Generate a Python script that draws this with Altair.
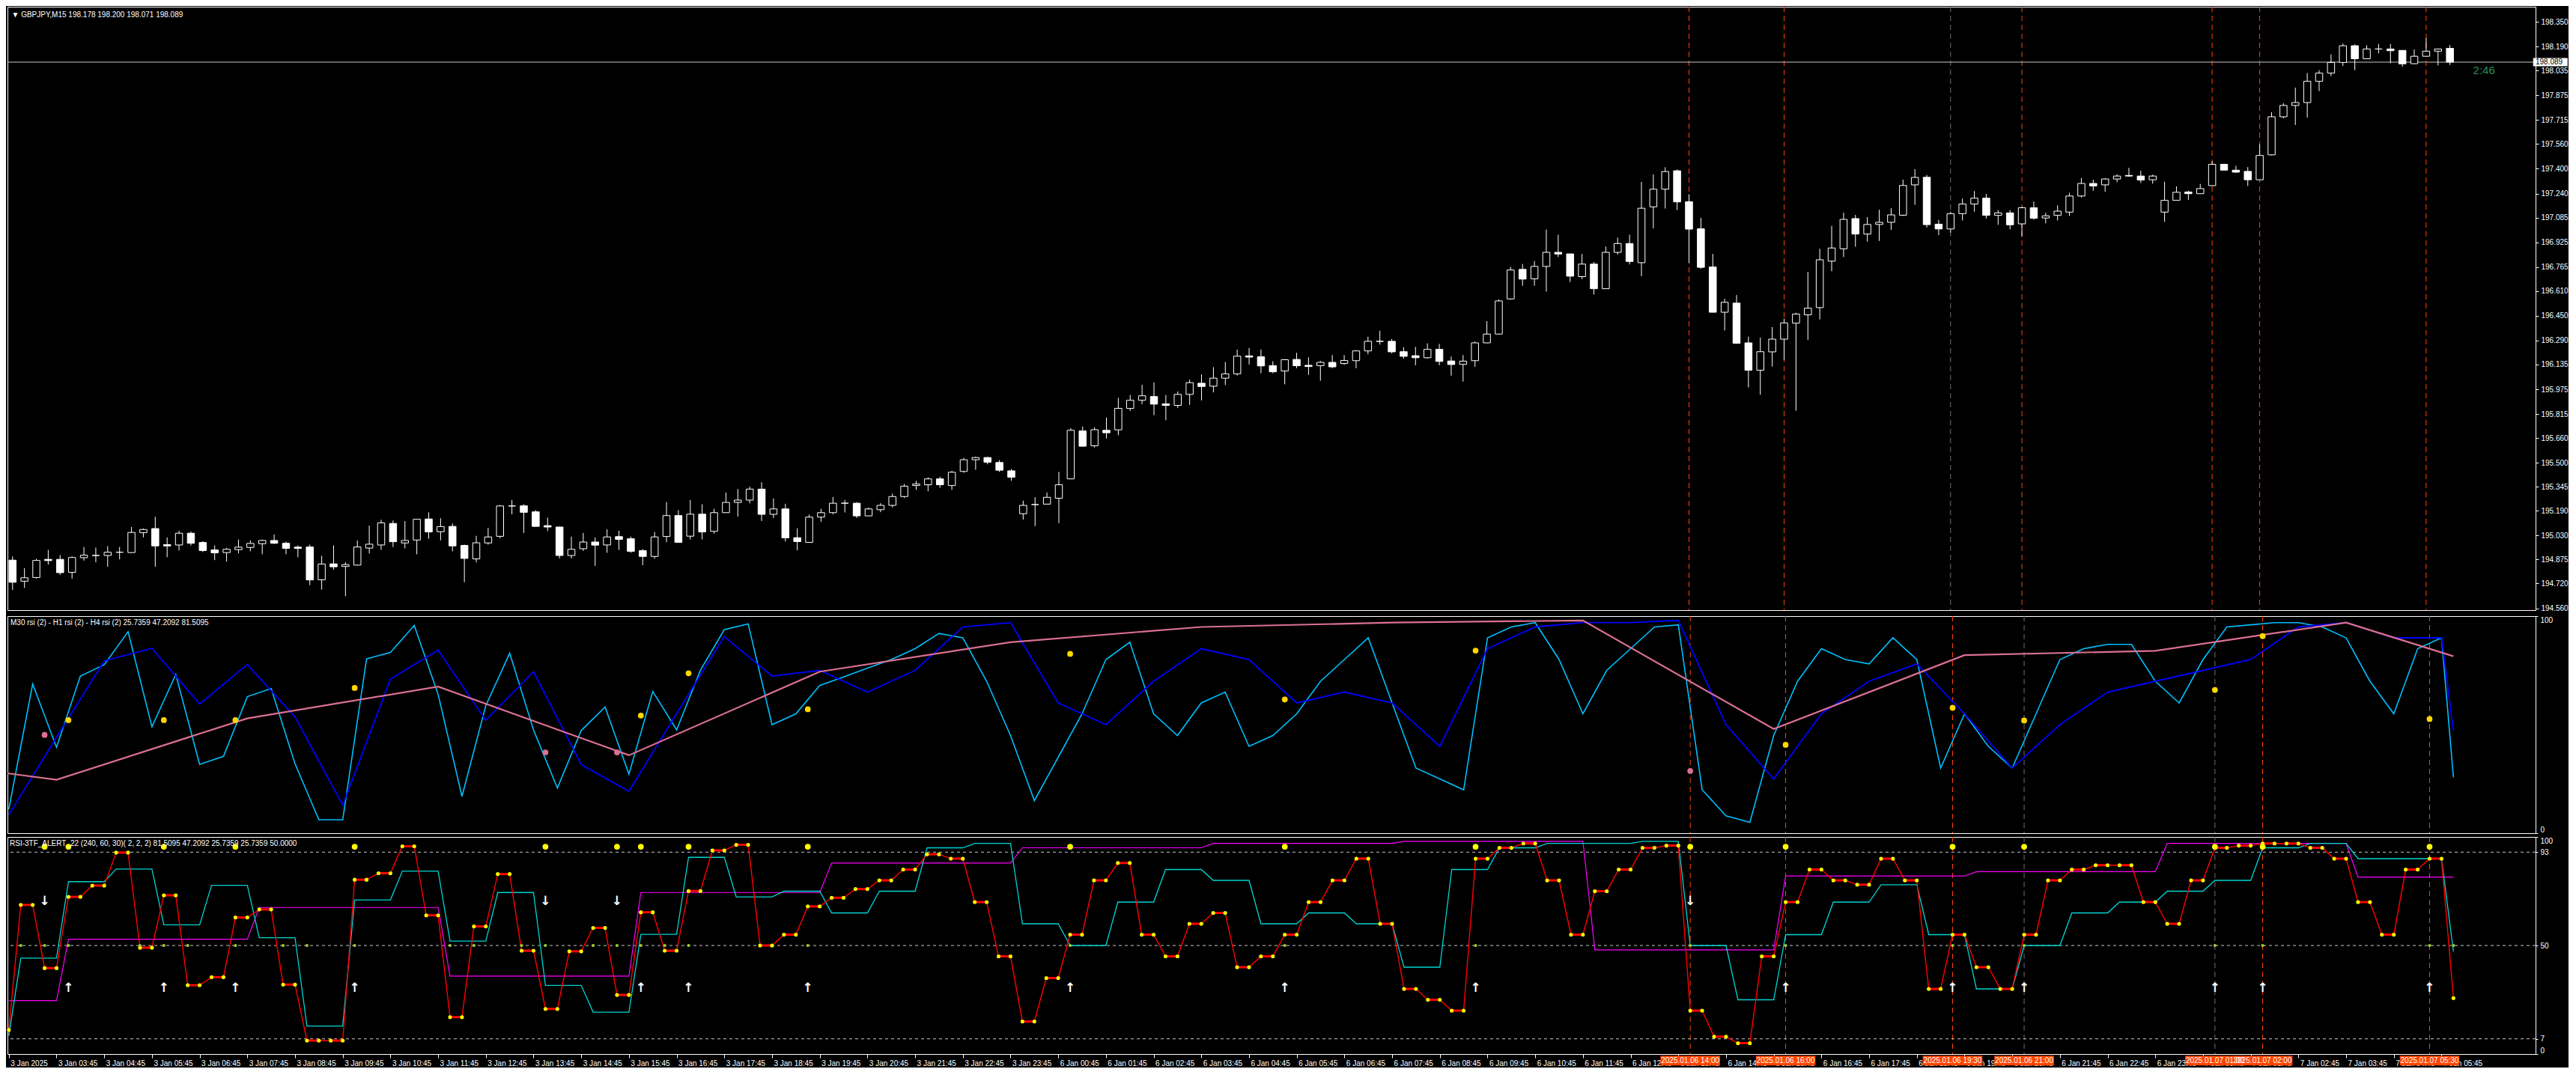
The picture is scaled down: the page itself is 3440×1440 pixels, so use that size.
import json
import altair as alt
import pandas as pd

# ---------------- data (M15 bars, index 0 = 3 Jan 02:45) ----------------
opens = [
    194.871, 194.735, 194.759, 194.876, 194.876, 194.792, 194.887, 194.901, 194.901, 194.922,
    194.920, 195.048, 195.075, 194.971, 194.969, 195.045, 194.985, 194.937, 194.920, 194.939,
    194.953, 194.977, 194.998, 194.980, 194.955, 194.956, 194.744, 194.847, 194.830, 194.839,
    194.949, 194.969, 195.108, 194.982, 195.001, 195.137, 195.055, 195.089, 194.966, 194.879,
    194.982, 195.025, 195.221, 195.222, 195.183, 195.094, 195.085, 194.901, 194.945, 194.988,
    194.969, 195.023, 195.009, 194.933, 194.895, 195.024, 195.159, 195.026, 195.168, 195.057,
    195.178, 195.244, 195.259, 195.330, 195.167, 195.202, 195.016, 194.986, 195.149, 195.178,
    195.239, 195.239, 195.157, 195.197, 195.225, 195.282, 195.353, 195.358, 195.396, 195.353,
    195.444, 195.520, 195.534, 195.502, 195.448, 195.171, 195.230, 195.233, 195.271, 195.396,
    195.706, 195.610, 195.710, 195.713, 195.851, 195.904, 195.928, 195.881, 195.871, 195.942,
    196.014, 195.995, 196.047, 196.075, 196.191, 196.185, 196.128, 196.093, 196.168, 196.130,
    196.128, 196.149, 196.142, 196.160, 196.223, 196.285, 196.285, 196.218, 196.192, 196.179,
    196.233, 196.158, 196.136, 196.160, 196.275, 196.332, 196.559, 196.750, 196.689, 196.769,
    196.860, 196.850, 196.703, 196.784, 196.625, 196.860, 196.917, 196.793, 197.154, 197.268,
    197.387, 197.187, 197.012, 196.765, 196.473, 196.532, 196.275, 196.098, 196.217, 196.299,
    196.402, 196.456, 196.503, 196.803, 196.883, 197.078, 196.978, 197.040, 197.054, 197.100,
    197.296, 197.345, 197.042, 197.011, 197.110, 197.172, 197.210, 197.099, 197.115, 197.044,
    197.148, 197.082, 197.099, 197.120, 197.224, 197.305, 197.296, 197.334, 197.357, 197.353,
    197.329, 197.120, 197.196, 197.250, 197.239, 197.291, 197.429, 197.391, 197.383, 197.329,
    197.490, 197.736, 197.809, 197.828, 197.965, 198.018, 198.087, 198.195, 198.111, 198.174,
    198.174, 198.165, 198.079, 198.127, 198.160, 198.178]
highs = [
    194.895, 194.819, 194.879, 194.937, 194.904, 194.895, 194.956, 194.952, 194.961, 194.956,
    195.085, 195.075, 195.151, 195.018, 195.061, 195.056, 194.993, 194.966, 194.950, 195.004,
    194.999, 195.004, 195.037, 194.990, 194.966, 194.971, 194.899, 194.966, 194.858, 194.998,
    195.094, 195.132, 195.127, 195.123, 195.137, 195.180, 195.142, 195.108, 194.971, 195.028,
    195.080, 195.227, 195.260, 195.232, 195.194, 195.146, 195.087, 195.023, 195.047, 195.018,
    195.070, 195.061, 195.023, 194.942, 195.053, 195.246, 195.194, 195.260, 195.232, 195.203,
    195.308, 195.331, 195.346, 195.374, 195.270, 195.235, 195.077, 195.165, 195.203, 195.279,
    195.260, 195.246, 195.211, 195.239, 195.301, 195.363, 195.383, 195.406, 195.410, 195.448,
    195.531, 195.540, 195.539, 195.517, 195.460, 195.255, 195.277, 195.308, 195.441, 195.724,
    195.735, 195.729, 195.792, 195.920, 195.938, 196.004, 196.020, 195.938, 195.961, 196.037,
    196.071, 196.118, 196.151, 196.232, 196.242, 196.232, 196.156, 196.170, 196.211, 196.182,
    196.158, 196.196, 196.196, 196.228, 196.315, 196.353, 196.299, 196.247, 196.249, 196.272,
    196.268, 196.187, 196.196, 196.283, 196.415, 196.556, 196.766, 196.785, 196.804, 197.007,
    196.974, 196.852, 196.850, 196.798, 196.898, 196.955, 196.974, 197.315, 197.363, 197.410,
    197.396, 197.235, 197.083, 196.850, 196.560, 196.584, 196.315, 196.309, 196.377, 196.431,
    196.470, 196.733, 196.883, 197.031, 197.116, 197.102, 197.088, 197.135, 197.145, 197.330,
    197.398, 197.360, 197.069, 197.122, 197.207, 197.256, 197.237, 197.133, 197.133, 197.155,
    197.188, 197.115, 197.164, 197.245, 197.340, 197.329, 197.340, 197.364, 197.406, 197.387,
    197.362, 197.316, 197.286, 197.258, 197.302, 197.449, 197.432, 197.419, 197.411, 197.558,
    197.766, 197.823, 197.924, 198.019, 198.037, 198.139, 198.209, 198.203, 198.198, 198.207,
    198.207, 198.167, 198.171, 198.245, 198.176, 198.200]
lows = [
    194.678, 194.692, 194.752, 194.842, 194.776, 194.752, 194.868, 194.857, 194.828, 194.876,
    194.918, 195.018, 194.828, 194.890, 194.933, 194.966, 194.923, 194.871, 194.861, 194.914,
    194.928, 194.909, 194.975, 194.909, 194.890, 194.709, 194.681, 194.809, 194.638, 194.837,
    194.914, 194.937, 194.956, 194.947, 194.909, 195.009, 194.999, 194.928, 194.728, 194.857,
    194.971, 195.013, 195.167, 195.047, 195.087, 195.058, 194.882, 194.882, 194.930, 194.834,
    194.918, 194.937, 194.918, 194.838, 194.880, 194.986, 194.986, 195.005, 195.005, 195.043,
    195.176, 195.152, 195.238, 195.124, 195.143, 194.991, 194.934, 194.984, 195.119, 195.167,
    195.179, 195.143, 195.155, 195.181, 195.211, 195.273, 195.325, 195.316, 195.339, 195.325,
    195.436, 195.455, 195.490, 195.441, 195.384, 195.133, 195.091, 195.231, 195.110, 195.394,
    195.605, 195.599, 195.657, 195.678, 195.836, 195.879, 195.808, 195.775, 195.855, 195.874,
    195.903, 195.955, 196.002, 196.064, 196.135, 196.079, 196.079, 196.007, 196.111, 196.068,
    196.030, 196.111, 196.133, 196.111, 196.201, 196.264, 196.207, 196.173, 196.130, 196.173,
    196.130, 196.063, 196.025, 196.120, 196.273, 196.330, 196.554, 196.644, 196.644, 196.606,
    196.830, 196.668, 196.687, 196.587, 196.623, 196.845, 196.782, 196.706, 197.015, 197.143,
    197.133, 196.791, 196.754, 196.471, 196.355, 196.269, 195.987, 195.940, 196.122, 196.165,
    195.837, 196.294, 196.426, 196.738, 196.830, 196.896, 196.929, 196.934, 197.005, 197.095,
    197.167, 197.020, 196.971, 196.987, 197.066, 197.123, 197.079, 197.038, 197.009, 196.962,
    197.071, 197.047, 197.066, 197.095, 197.215, 197.258, 197.251, 197.313, 197.348, 197.308,
    197.304, 197.057, 197.194, 197.199, 197.237, 197.289, 197.388, 197.374, 197.289, 197.327,
    197.486, 197.726, 197.683, 197.731, 197.902, 197.999, 198.065, 198.037, 198.109, 198.146,
    198.082, 198.060, 198.077, 198.125, 198.068, 198.071]
closes = [
    194.728, 194.757, 194.869, 194.868, 194.790, 194.888, 194.903, 194.901, 194.922, 194.922,
    195.050, 195.069, 194.963, 194.963, 195.045, 194.980, 194.933, 194.918, 194.941, 194.955,
    194.979, 194.998, 194.980, 194.947, 194.947, 194.743, 194.846, 194.828, 194.842, 194.956,
    194.974, 195.112, 194.990, 194.998, 195.135, 195.053, 195.088, 194.963, 194.882, 194.983,
    195.021, 195.221, 195.221, 195.180, 195.089, 195.085, 194.901, 194.941, 194.988, 194.968,
    195.021, 195.005, 194.928, 194.895, 195.021, 195.159, 194.986, 195.168, 195.053, 195.178,
    195.244, 195.259, 195.330, 195.167, 195.202, 195.015, 194.991, 195.149, 195.178, 195.239,
    195.239, 195.157, 195.202, 195.225, 195.282, 195.349, 195.363, 195.396, 195.358, 195.439,
    195.520, 195.534, 195.504, 195.452, 195.407, 195.225, 195.230, 195.277, 195.358, 195.710,
    195.607, 195.714, 195.694, 195.852, 195.904, 195.933, 195.879, 195.871, 195.942, 196.018,
    195.993, 196.047, 196.075, 196.189, 196.183, 196.126, 196.088, 196.166, 196.127, 196.122,
    196.149, 196.120, 196.161, 196.223, 196.285, 196.285, 196.217, 196.188, 196.179, 196.233,
    196.155, 196.135, 196.157, 196.275, 196.332, 196.546, 196.746, 196.687, 196.769, 196.860,
    196.849, 196.706, 196.784, 196.625, 196.860, 196.917, 196.801, 197.145, 197.268, 197.382,
    197.186, 197.010, 196.763, 196.473, 196.537, 196.272, 196.098, 196.218, 196.299, 196.404,
    196.461, 196.499, 196.812, 196.888, 197.073, 196.978, 197.040, 197.054, 197.102, 197.292,
    197.344, 197.039, 197.011, 197.110, 197.172, 197.210, 197.099, 197.115, 197.038, 197.148,
    197.080, 197.096, 197.126, 197.224, 197.305, 197.289, 197.334, 197.353, 197.353, 197.327,
    197.353, 197.196, 197.248, 197.239, 197.272, 197.429, 197.391, 197.378, 197.329, 197.486,
    197.736, 197.809, 197.828, 197.965, 198.018, 198.087, 198.195, 198.111, 198.174, 198.174,
    198.163, 198.078, 198.127, 198.160, 198.174, 198.089]

price_ticks = [194.560, 194.720, 194.875, 195.030, 195.190, 195.345, 195.500, 195.660,
               195.815, 195.975, 196.135, 196.290, 196.450, 196.610, 196.765, 196.925,
               197.085, 197.240, 197.400, 197.560, 197.715, 197.875, 198.035, 198.190, 198.350]
last_price = 198.089
timer_text = "2:46"

# RSI(2) per M30 bar (bar b covers M15 bars 2b-1, 2b)
m30_rsi = [11.1, 68.7, 39.6, 72.4, 77.6, 92.8, 49.0, 73.1, 31.7, 35.4,
           62.9, 66.6, 32.0, 6.2, 6.2, 80.3, 83.3, 95.7, 63.9, 17.0,
           58.8, 82.9, 47.6, 20.8, 47.3, 58.1, 27.2, 65.3, 47.6, 75.1,
           93.8, 96.4, 50, 55, 68, 72, 76, 80, 85, 92,
           90, 70, 45, 15, 35, 55, 80, 88, 55, 45,
           60, 65, 40, 45, 55, 70, 80, 90, 60, 30,
           25, 20, 90, 95, 97, 80, 55, 75, 85, 95,
           96, 20, 8, 5, 45, 70, 85, 80, 78, 90,
           80, 30, 55, 40, 30, 55, 80, 85, 87, 87,
           70, 60, 80, 95, 96, 97, 97, 95, 90, 70,
           55, 85, 90, 25.7359]
# RSI(2) per H1 bar (bar c covers M15 bars 4c-3 .. 4c)
h1_rsi = [8.5, 44.2, 79.4, 85.2, 59.5, 77.7, 53.6, 12.9, 71.0, 84.3,
          52.0, 74.4, 31.6, 19.3, 55.1, 90.6, 72.4, 75, 65, 75,
          95, 97, 60, 50, 70, 85, 80, 60, 65, 60,
          40, 85, 95, 97, 97, 98, 50, 25, 55, 70,
          78, 55, 30, 50, 65, 70, 75, 80, 95, 97,
          90, 90, 47.2092]
# RSI(2) per H4 bar (first entry = bar ending before the chart)
h4_rsi = [36.2, 24.6, 52.9, 67.5, 35.9, 74.4, 88, 95, 97, 98, 48, 82, 84, 97, 81.5095]

sig_k = [3, 5, 13, 19, 29, 45, 51, 53, 57, 67, 89, 107, 123, 141, 149, 163, 169, 185, 189, 203]
sig_dir = ["dn", "up", "up", "up", "up", "dn", "dn", "up", "up", "up",
           "up", "up", "up", "dn", "up", "up", "up", "up", "up", "up"]
sig_mid_val = [45.3, 52.1, 52.1, 52.1, 66.9, 37.2, 37.2, 54.2, 73.7, 57.1,
               82.6, 61.6, 84.1, 28.7, 40.7, 57.8, 51.9, 66.0, 90.8, 52.6]
mid_k_dots = [1, 3, 5, 11, 13, 15, 19, 23, 25, 29, 37, 39, 43, 45, 49, 51, 53, 55, 57,
              67, 89, 107, 123, 141, 149, 163, 169, 185, 189, 203, 205]

vline_k = [141, 149, 163, 169, 185, 189, 203]
vline_label = ["2025.01.06 14:00", "2025.01.06 16:00", "2025.01.06 19:30", "2025.01.06 21:00",
               "2025.01.07 01:00", "2025.01.07 02:00", "2025.01.07 05:30"]
vline_col_top = ["#FF4500", "#FF4500", "#707070", "#FF4500", "#FF4500", "#FF4500", "#FF4500"]
vline_col_low = ["#FF4500", "#FF4500", "#FF4500", "#707070", "#707070", "#FF4500", "#FF4500"]

levels = [93, 50, 7]

# ---------------- derived tables ----------------
N = len(closes)
K = list(range(N))


def bar_label(k):
    if k == 0:
        return "3 Jan 2025"
    if k <= 84:
        m = 2 * 60 + 45 + 15 * k
        return f"3 Jan {m // 60:02d}:{m % 60:02d}"
    m = 15 * (k - 85)
    day = 6 + m // 1440
    m = m % 1440
    return f"{day} Jan {m // 60:02d}:{m % 60:02d}"


tick_k = list(range(0, N, 4))
tick_labels = [bar_label(k) for k in tick_k]

cdf = pd.DataFrame({"k": K, "open": opens, "high": highs, "low": lows, "close": closes})
cdf["fill"] = ["#000000" if c >= o else "#FFFFFF" for o, c in zip(opens, closes)]

m30_step = [m30_rsi[(k + 1) // 2] for k in K]
h1_step = [h1_rsi[(k + 3) // 4] for k in K]
h4_step = [h4_rsi[(k - 5) // 16 + 2] for k in K]
step_df = pd.DataFrame({"k": K, "m30": m30_step, "h1": h1_step, "h4": h4_step})

m30_v = pd.DataFrame({"k": [min(2 * b, N - 1) for b in range(len(m30_rsi))], "v": m30_rsi})
h1_v = pd.DataFrame({"k": [min(4 * c, N - 1) for c in range(len(h1_rsi))], "v": h1_rsi})
h4_v = pd.DataFrame({"k": [min(16 * d + 20, N - 1) for d in range(-2, len(h4_rsi) - 2)], "v": h4_rsi})

flat_df = pd.DataFrame({"k": [2 * b - 1 for b in range(1, len(m30_rsi))],
                        "k2": [min(2 * b, N - 1) for b in range(1, len(m30_rsi))],
                        "v": m30_rsi[1:]})

sig_df = pd.DataFrame({"k": sig_k, "dir": sig_dir, "mv": sig_mid_val})
sig_df["mcol"] = ["#DB7093" if d == "dn" else "#FFD700" for d in sig_dir]
sig_df["top"] = 95.5
sig_df["arrow_v"] = [70.5 if d == "dn" else 30.5 for d in sig_dir]
sig_df["arrow"] = ["\u2193" if d == "dn" else "\u2191" for d in sig_dir]

green_df = pd.DataFrame({"k": mid_k_dots, "v": [50] * len(mid_k_dots)})

vl_top = pd.DataFrame({"k": vline_k, "col": vline_col_top})
vl_low = pd.DataFrame({"k": vline_k, "col": vline_col_low, "lab": vline_label})
vl_low["k1"] = vl_low["k"] - 2.5
vl_low["k2"] = vl_low["k"] + 2.5
vl_low["y1"] = -0.8
vl_low["y2"] = -5.3
vl_low["ty"] = -3.0

lev_df = pd.DataFrame({"v": levels})

# ---------------- layout ----------------
W = 3376
H_TOP, H_MID, H_BOT = 806, 290, 290
X_DOM = [-0.1125, 211.8875]
P_DOM = [194.548, 198.447]
FONT = "Liberation Sans"

xs = alt.Scale(domain=X_DOM, nice=False, zero=False)


def xq(field="k"):
    return alt.X(f"{field}:Q", scale=xs, axis=None, title=None)


x_bot_axis = alt.Axis(values=tick_k, labelExpr=json.dumps(tick_labels) + "[round(datum.value / 4)]",
                      labelAlign="left", labelOffset=2, tickSize=5, labelPadding=2, domain=False,
                      grid=False, labelOverlap=False, labelBound=False, labelFlush=False,
                      labelColor="white", labelFontSize=10, title=None)


def xb(field="k"):
    return alt.X(f"{field}:Q", scale=xs, axis=x_bot_axis, title=None)


price_axis = alt.Axis(orient="right", values=price_ticks, format=".3f", tickSize=4, labelPadding=3,
                      domain=False, grid=False, labelFlush=False, labelBound=False,
                      labelOverlap=False, title=None)


def yp(field):
    return alt.Y(f"{field}:Q", scale=alt.Scale(domain=P_DOM, nice=False, zero=False),
                 axis=price_axis, title=None)


rsi_scale = alt.Scale(domain=[0, 100], nice=False, zero=False)
mid_axis = alt.Axis(orient="right", values=[0, 100], tickSize=3, labelPadding=3, domain=False,
                    grid=False, labelFlush=True, title=None)
bot_axis = alt.Axis(orient="right", values=[0, 7, 50, 93, 100], tickSize=3, labelPadding=3,
                    domain=False, grid=False, labelFlush=True, labelOverlap=False, title=None)


def ym(field):
    return alt.Y(f"{field}:Q", scale=rsi_scale, axis=mid_axis, title=None)


def yb(field):
    return alt.Y(f"{field}:Q", scale=rsi_scale, axis=bot_axis, title=None)


# ---- top: candles ----
base_c = alt.Chart(cdf)
wicks = base_c.mark_rule(color="white", strokeWidth=1).encode(x=xq(), y=yp("low"), y2="high:Q")
bodies = base_c.mark_bar(size=9.5, stroke="white", strokeWidth=1).encode(
    x=xq(), y=yp("open"), y2="close:Q", fill=alt.Fill("fill:N", scale=None))
vtop = alt.Chart(vl_top).mark_rule(strokeDash=[7, 5], strokeWidth=1).encode(
    x=xq(), color=alt.Color("col:N", scale=None))
lp_df = pd.DataFrame({"p": [last_price], "k": [206.95], "k1": [212.0], "k2": [214.9],
                      "p1": [last_price - 0.027], "p2": [last_price + 0.027], "kt": [212.2],
                      "txt": [f"{last_price:.3f}"], "timer": [timer_text]})
pline = alt.Chart(lp_df).mark_rule(color="#C8C8C8", strokeWidth=1).encode(y=yp("p"))
timer = alt.Chart(lp_df).mark_text(align="left", baseline="middle", dy=11, fontSize=15,
                                   color="#2E8B57", font=FONT).encode(x=xq(), y=yp("p"), text="timer:N")
pbox = alt.Chart(lp_df).mark_rect(color="white").encode(x=xq("k1"), x2="k2:Q", y=yp("p1"), y2="p2:Q")
ptxt = alt.Chart(lp_df).mark_text(align="left", baseline="middle", fontSize=10, color="black",
                                  font=FONT).encode(x=xq("kt"), y=yp("p"), text="txt:N")

top = alt.layer(vtop, pline, wicks, bodies, timer, pbox, ptxt).properties(
    width=W, height=H_TOP,
    title=alt.TitleParams("\u25BC GBPJPY,M15  198.178 198.200 198.071 198.089", anchor="start",
                          offset=-16, dx=6, fontSize=10, color="white", font=FONT,
                          fontWeight="normal"))

# ---- middle: three RSI lines ----
vmid = alt.Chart(vl_low).mark_rule(strokeDash=[7, 5], strokeWidth=1).encode(
    x=xq(), color=alt.Color("col:N", scale=None))
cyan = alt.Chart(m30_v).mark_line(color="#00BFFF", strokeWidth=1.6, clip=True).encode(x=xq(), y=ym("v"))
blue = alt.Chart(h1_v).mark_line(color="#0000FF", strokeWidth=1.8, clip=True).encode(x=xq(), y=ym("v"))
pink = alt.Chart(h4_v).mark_line(color="#DB7093", strokeWidth=2.2, clip=True).encode(x=xq(), y=ym("v"))
mdots = alt.Chart(sig_df).mark_circle(size=60, opacity=1).encode(
    x=xq(), y=ym("mv"), color=alt.Color("mcol:N", scale=None))
mid = alt.layer(vmid, cyan, blue, pink, mdots).properties(
    width=W, height=H_MID,
    title=alt.TitleParams("M30 rsi (2) - H1 rsi (2) - H4 rsi (2) 25.7359 47.2092 81.5095",
                          anchor="start", offset=-14, dx=4, fontSize=10, color="white",
                          font=FONT, fontWeight="normal"))

# ---- bottom: RSI-3TF alert ----
lev = alt.Chart(lev_df).mark_rule(color="#C8C8C8", strokeDash=[4, 4], strokeWidth=1).encode(y=yb("v"))
vbot = alt.Chart(vl_low).mark_rule(strokeDash=[7, 5], strokeWidth=1).encode(
    x=xb(), color=alt.Color("col:N", scale=None))
base_s = alt.Chart(step_df)
mag = base_s.mark_line(color="#FF00FF", strokeWidth=1.2).encode(x=xb(), y=yb("h4"))
tq = base_s.mark_line(color="#00D5D5", strokeWidth=1.3).encode(x=xb(), y=yb("h1"))
red = base_s.mark_line(color="#FF0000", strokeWidth=1.4).encode(x=xb(), y=yb("m30"))
redflat = alt.Chart(flat_df).mark_rule(color="#FF0000", strokeWidth=3).encode(
    x=xb(), x2="k2:Q", y=yb("v"))
ydots = base_s.mark_circle(size=26, color="#FFFF00", opacity=1).encode(x=xb(), y=yb("m30"))
topdots = alt.Chart(sig_df).mark_circle(size=60, color="#FFFF00", opacity=1).encode(x=xb(), y=yb("top"))
gdots = alt.Chart(green_df).mark_circle(size=18, color="#9ACD32", opacity=1).encode(x=xb(), y=yb("v"))
arrows = alt.Chart(sig_df).mark_text(fontSize=17, fontWeight="bold", color="white",
                                     font="DejaVu Sans").encode(x=xb(), y=yb("arrow_v"), text="arrow:N")
lbox = alt.Chart(vl_low).mark_rect(color="#FF4500").encode(x=xb("k1"), x2="k2:Q", y=yb("y1"), y2="y2:Q")
ltxt = alt.Chart(vl_low).mark_text(fontSize=10, color="white", font=FONT, baseline="middle").encode(
    x=xb(), y=yb("ty"), text="lab:N")

bot = alt.layer(vbot, lev, mag, tq, red, redflat, ydots, gdots, topdots, arrows, lbox, ltxt).properties(
    width=W, height=H_BOT,
    title=alt.TitleParams("RSI-3TF_ALERT_22  (240, 60, 30)( 2, 2, 2)  81.5095 47.2092 25.7359 25.7359 50.0000",
                          anchor="start", offset=-14, dx=4, fontSize=10, color="white",
                          font=FONT, fontWeight="normal"))

chart = alt.vconcat(top, mid, bot, spacing=3).properties(
    background="black", padding=0
).configure_view(
    stroke="white", strokeWidth=1, fill="black"
).configure_axis(
    labelColor="white", tickColor="white", labelFont=FONT, labelFontSize=10, domainColor="white"
).configure_title(
    color="white", font=FONT, fontSize=10
)

chart.save("out.html", embed_options={"renderer": "svg", "actions": False})
